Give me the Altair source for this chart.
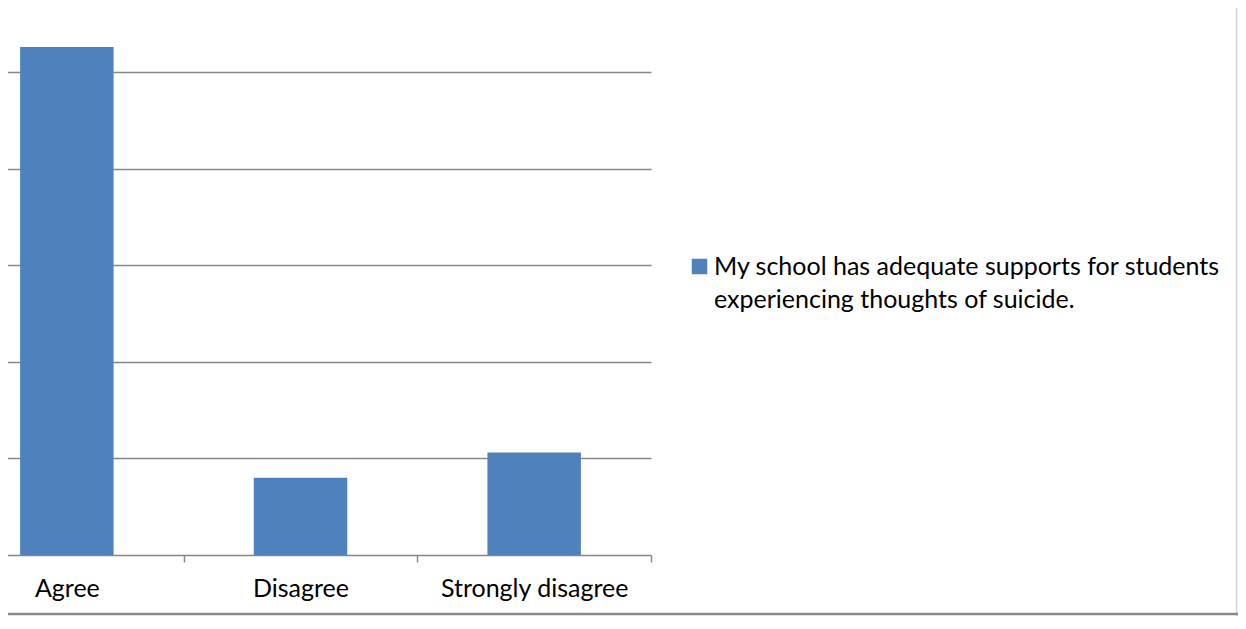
import altair as alt
import pandas as pd

categories = ["Agree", "Disagree", "Strongly disagree"]
values = [5.26, 0.80, 1.06]
series_name = "My school has adequate supports for students\nexperiencing thoughts of suicide."
grid_values = [0, 1, 2, 3, 4, 5]

df = pd.DataFrame({"category": categories, "value": values, "series": [series_name] * len(categories)})
frame_df = pd.DataFrame({"k": [0]})

bars = alt.Chart(df).mark_bar(color="#4f81bd", width=alt.RelativeBandSize(0.4)).encode(
    x=alt.X(
        "category:N",
        sort=categories,
        scale=alt.Scale(range=[-58, 643], paddingInner=0, paddingOuter=0),
        axis=alt.Axis(
            title=None, domain=False, grid=False, tickBand="extent", tickSize=7,
            tickColor="#8c8c8c", tickWidth=1.5, labelAngle=0, labelFont="Lato",
            labelFontSize=25, labelColor="#000000", labelPadding=14, labelLimit=400,
        ),
    ),
    y=alt.Y(
        "value:Q",
        scale=alt.Scale(domain=[0, 5.6625], nice=False, zero=True),
        axis=alt.Axis(
            title=None, labels=False, ticks=False, domain=False, values=grid_values,
            grid=True, gridColor="#878787", gridWidth=1.5,
        ),
    ),
    color=alt.Color(
        "series:N",
        scale=alt.Scale(range=["#4f81bd"]),
        legend=alt.Legend(
            title=None, orient="none", legendX=679, legendY=246, padding=0,
            symbolType="square", symbolSize=240, symbolStrokeWidth=0, symbolOpacity=1,
            labelOffset=2, labelFont="Lato", labelFontSize=25, labelColor="#000000",
            labelLimit=700, labelExpr="split(datum.label, '\\n')",
        ),
    ),
)

right_border = alt.Chart(frame_df).mark_rule(color="#d4d4d4", strokeWidth=1.5).encode(
    x=alt.value(1228.5), y=alt.value(-2), y2=alt.value(608)
)
bottom_line = alt.Chart(frame_df).mark_rule(color="#8a8a8a", strokeWidth=2.5).encode(
    x=alt.value(-8), x2=alt.value(1230), y=alt.value(606)
)

chart = alt.layer(bars, right_border, bottom_line).properties(
    width=643,
    height=547,
    autosize=alt.AutoSizeParams(type="none"),
    padding={"left": 0, "top": 0, "right": 587, "bottom": 61},
).configure(
    style={"guide-label": {"lineHeight": 33}}
).configure_view(stroke=None)

chart.save("out.html", embed_options={"renderer": "svg", "actions": False})
